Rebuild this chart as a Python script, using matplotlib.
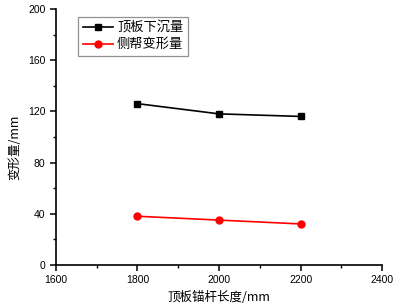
import matplotlib
matplotlib.use('Agg')
import matplotlib.pyplot as plt
from matplotlib.ticker import MultipleLocator

plt.rcParams['font.family'] = ['Noto Sans CJK SC', 'DejaVu Sans']

lengths = [1800, 2000, 2200]
roof_sink = [126, 118, 116]
side_deform = [38, 35, 32]
series_names = ['顶板下沉量', '侧帮变形量']


def main():
    fig = plt.figure(figsize=(3.96, 3.08), dpi=100)
    ax = fig.add_axes([0.141, 0.140, 0.824, 0.831])

    ax.plot(lengths, roof_sink, color='black', marker='s', markersize=4.5,
            linewidth=1.2, label=series_names[0])
    ax.plot(lengths, side_deform, color='red', marker='o', markersize=5,
            linewidth=1.2, label=series_names[1])

    ax.set_xlim(1600, 2400)
    ax.set_ylim(0, 200)
    ax.xaxis.set_major_locator(MultipleLocator(200))
    ax.xaxis.set_minor_locator(MultipleLocator(100))
    ax.yaxis.set_major_locator(MultipleLocator(40))
    ax.yaxis.set_minor_locator(MultipleLocator(20))

    ax.spines['top'].set_visible(False)
    ax.spines['right'].set_visible(False)
    for s in ('left', 'bottom'):
        ax.spines[s].set_linewidth(1.2)
    ax.tick_params(which='major', direction='out', length=4, width=1.1,
                   labelsize=7.5)
    ax.tick_params(which='minor', direction='out', length=2.5, width=1)
    for lab in ax.get_xticklabels() + ax.get_yticklabels():
        lab.set_family('Liberation Sans')

    ax.set_xlabel('顶板锚杆长度/mm', fontsize=9, labelpad=4)
    ax.set_ylabel('变形量/mm', fontsize=9)
    ax.yaxis.set_label_coords(-0.105, 0.46)

    leg = ax.legend(loc='upper left', bbox_to_anchor=(0.068, 0.97),
                    fontsize=9.5, frameon=True, fancybox=False,
                    edgecolor='#777777', borderpad=0.35, labelspacing=0.3,
                    handlelength=2.3, handletextpad=0.3, borderaxespad=0)
    leg.get_frame().set_linewidth(0.9)

    fig.savefig('out.png', dpi=100)


if __name__ == '__main__':
    main()
